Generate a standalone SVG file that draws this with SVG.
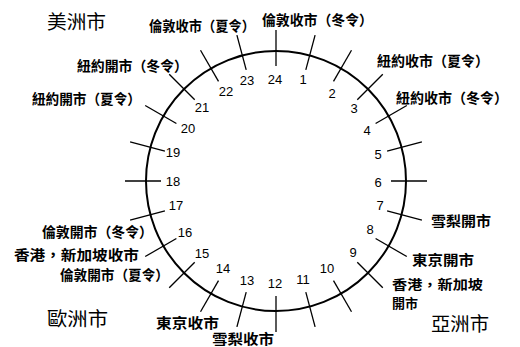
<svg xmlns="http://www.w3.org/2000/svg" width="520" height="347" viewBox="0 0 520 347">
<style>
.face{fill:none;stroke:#000;stroke-width:2}
.tick{stroke:#000;stroke-width:1.3;stroke-linecap:butt}
.num{font-family:"Liberation Sans","DejaVu Sans",sans-serif;font-size:13px;fill:#000;text-anchor:middle;dominant-baseline:central}
.lbl{font-family:"Noto Sans CJK TC","Noto Sans CJK SC",sans-serif;font-size:14px;fill:#000;dominant-baseline:central;font-weight:bold}
.sm{font-size:13px}
.reg{font-family:"Noto Sans CJK TC","Noto Sans CJK SC",sans-serif;font-size:19px;fill:#000;dominant-baseline:central}
</style>
<rect width="520" height="347" fill="#fff"/>
<g id="clock">
<circle class="face" cx="276" cy="181" r="130"/>
</g>
<g id="connectors">
<line class="tick" x1="276" y1="66" x2="276" y2="30"/>
<line class="tick" x1="305.8" y1="69.9" x2="315.1" y2="35.1"/>
<line class="tick" x1="333.5" y1="81.4" x2="351.5" y2="50.2"/>
<line class="tick" x1="357.3" y1="99.7" x2="382.8" y2="74.2"/>
<line class="tick" x1="375.6" y1="123.5" x2="406.8" y2="105.5"/>
<line class="tick" x1="387.1" y1="151.2" x2="421.9" y2="141.9"/>
<line class="tick" x1="391" y1="181" x2="427" y2="181"/>
<line class="tick" x1="387.1" y1="210.8" x2="421.9" y2="220.1"/>
<line class="tick" x1="375.6" y1="238.5" x2="406.8" y2="256.5"/>
<line class="tick" x1="357.3" y1="262.3" x2="382.8" y2="287.8"/>
<line class="tick" x1="333.5" y1="280.6" x2="351.5" y2="311.8"/>
<line class="tick" x1="305.8" y1="292.1" x2="315.1" y2="326.9"/>
<line class="tick" x1="276" y1="296" x2="276" y2="332"/>
<line class="tick" x1="246.2" y1="292.1" x2="236.9" y2="326.9"/>
<line class="tick" x1="218.5" y1="280.6" x2="200.5" y2="311.8"/>
<line class="tick" x1="194.7" y1="262.3" x2="169.2" y2="287.8"/>
<line class="tick" x1="176.4" y1="238.5" x2="145.2" y2="256.5"/>
<line class="tick" x1="164.9" y1="210.8" x2="130.1" y2="220.1"/>
<line class="tick" x1="161" y1="181" x2="125" y2="181"/>
<line class="tick" x1="164.9" y1="151.2" x2="130.1" y2="141.9"/>
<line class="tick" x1="176.4" y1="123.5" x2="145.2" y2="105.5"/>
<line class="tick" x1="194.7" y1="99.7" x2="169.2" y2="74.2"/>
<line class="tick" x1="218.5" y1="81.4" x2="200.5" y2="50.2"/>
<line class="tick" x1="246.2" y1="69.9" x2="236.9" y2="35.1"/>
</g>
<g id="hours">
<text class="num" x="275" y="79">24</text>
<text class="num" x="303" y="79">1</text>
<text class="num" x="332" y="93">2</text>
<text class="num" x="354" y="108">3</text>
<text class="num" x="367" y="130">4</text>
<text class="num" x="378" y="154">5</text>
<text class="num" x="378" y="182">6</text>
<text class="num" x="380" y="205">7</text>
<text class="num" x="370" y="229">8</text>
<text class="num" x="353" y="252">9</text>
<text class="num" x="327" y="268">10</text>
<text class="num" x="303" y="279">11</text>
<text class="num" x="275" y="283">12</text>
<text class="num" x="247" y="280">13</text>
<text class="num" x="223" y="268">14</text>
<text class="num" x="202" y="253">15</text>
<text class="num" x="185" y="232">16</text>
<text class="num" x="176" y="205">17</text>
<text class="num" x="173" y="181">18</text>
<text class="num" x="173" y="152">19</text>
<text class="num" x="188" y="128">20</text>
<text class="num" x="202" y="107">21</text>
<text class="num" x="226" y="91">22</text>
<text class="num" x="247" y="80">23</text>
</g>
<g id="region-america"><text class="reg" x="47" y="20.5" textLength="59" lengthAdjust="spacingAndGlyphs">美洲市</text></g>
<g id="region-europe"><text class="reg" x="47" y="317.5" textLength="61" lengthAdjust="spacingAndGlyphs">歐洲市</text></g>
<g id="region-asia"><text class="reg" x="431" y="322.5" textLength="58" lengthAdjust="spacingAndGlyphs">亞洲市</text></g>
<g id="lbl-london-close-summer"><text class="lbl" x="149" y="25" textLength="106" lengthAdjust="spacingAndGlyphs">倫敦收市（夏令）</text></g>
<g id="lbl-london-close-winter"><text class="lbl" x="262" y="18.5" textLength="111" lengthAdjust="spacingAndGlyphs">倫敦收市（冬令）</text></g>
<g id="lbl-ny-close-summer"><text class="lbl" x="377" y="60" textLength="112" lengthAdjust="spacingAndGlyphs">紐約收市（夏令）</text></g>
<g id="lbl-ny-close-winter"><text class="lbl" x="396" y="96.5" textLength="112" lengthAdjust="spacingAndGlyphs">紐約收市（冬令）</text></g>
<g id="lbl-ny-open-winter"><text class="lbl" x="77" y="65" textLength="111" lengthAdjust="spacingAndGlyphs">紐約開市（冬令）</text></g>
<g id="lbl-ny-open-summer"><text class="lbl" x="32" y="97.5" textLength="109" lengthAdjust="spacingAndGlyphs">紐約開市（夏令）</text></g>
<g id="lbl-london-open-winter"><text class="lbl" x="42" y="231" textLength="111" lengthAdjust="spacingAndGlyphs">倫敦開市（冬令）</text></g>
<g id="lbl-hk-close"><text class="lbl" x="14" y="254" textLength="125" lengthAdjust="spacingAndGlyphs">香港，新加坡收市</text></g>
<g id="lbl-london-open-summer"><text class="lbl" x="60" y="274" textLength="109" lengthAdjust="spacingAndGlyphs">倫敦開市（夏令）</text></g>
<g id="lbl-tokyo-close"><text class="lbl" x="156" y="321.5" textLength="63" lengthAdjust="spacingAndGlyphs">東京收市</text></g>
<g id="lbl-sydney-close"><text class="lbl" x="212" y="337.5" textLength="62" lengthAdjust="spacingAndGlyphs">雪梨收市</text></g>
<g id="lbl-sydney-open"><text class="lbl" x="431" y="220" textLength="60" lengthAdjust="spacingAndGlyphs">雪梨開市</text></g>
<g id="lbl-tokyo-open"><text class="lbl" x="412" y="258.5" textLength="62" lengthAdjust="spacingAndGlyphs">東京開市</text></g>
<g id="lbl-hk-open"><text class="lbl sm" x="392" y="283" textLength="91" lengthAdjust="spacingAndGlyphs">香港，新加坡</text><text class="lbl sm" x="392" y="302" textLength="26" lengthAdjust="spacingAndGlyphs">開市</text></g>
</svg>
